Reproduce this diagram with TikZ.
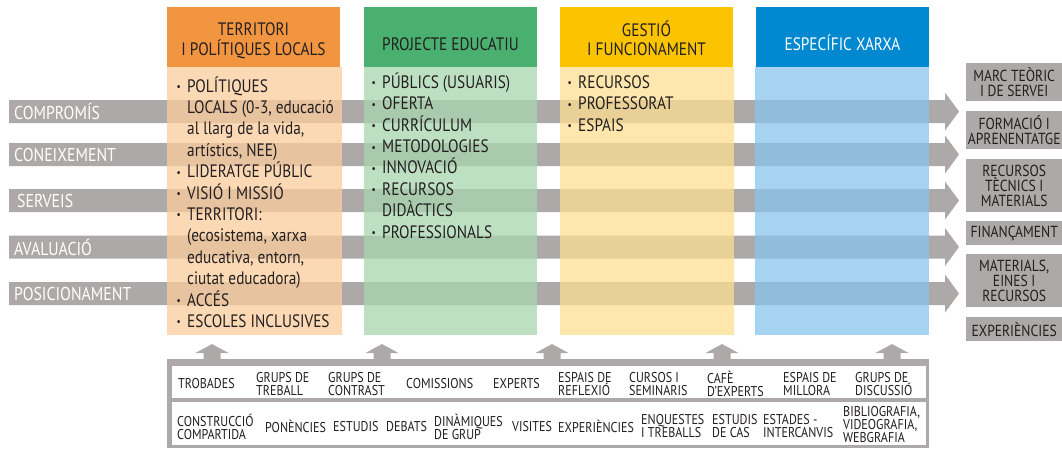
\documentclass[tikz,border=0pt]{standalone}
\usepackage{fontspec}
\setmainfont{PT Sans}[FakeStretch=0.85]
\definecolor{gr}{RGB}{173,169,168}
\definecolor{txt}{RGB}{35,31,32}
\definecolor{orH}{RGB}{242,149,65}
\definecolor{orB}{RGB}{251,204,156}
\definecolor{grH}{RGB}{73,176,112}
\definecolor{grB}{RGB}{168,214,174}
\definecolor{yeH}{RGB}{252,195,0}
\definecolor{yeB}{RGB}{254,222,144}
\definecolor{blH}{RGB}{0,136,209}
\definecolor{blB}{RGB}{136,196,236}
\newcommand\mybul{\makebox[10.5pt][l]{\raisebox{1.5pt}{\fontsize{11}{11}\selectfont\textbullet}}}
\newcommand\myind{\hspace*{10.5pt}}
\begin{document}
\begin{tikzpicture}[x=1pt,y=-1pt,
  hdr/.style={minimum width=173pt, minimum height=60pt, inner sep=0pt, anchor=north west},
  htxt/.style={anchor=base, align=center, font=\fontsize{18}{19.5}\selectfont, inner sep=0pt, text=txt},
  body/.style={fill opacity=0.75},
  blist/.style={anchor=base west, align=left, font=\fontsize{18}{21.4}\selectfont, inner sep=0pt, text=txt},
  side/.style={fill=gr, minimum width=96pt, inner sep=0pt, align=center, text=txt, font=\fontsize{16}{15}\selectfont, anchor=north west},
  cell/.style={anchor=west, align=left, inner sep=0pt, text=txt, font=\fontsize{14.2}{13}\selectfont},
  lab/.style={anchor=west, text=white, inner sep=0pt, font=\fontsize{18.6}{19}\selectfont},
]
\useasboundingbox (0,0) rectangle (1062,450);
% horizontal block arrows
\foreach \c in {111.5,154.5,200.5,247,293.5}{
  \fill[gr] (9,\c-11.5) -- (945,\c-11.5) -- (945,\c-19) -- (959,\c) -- (945,\c+19) -- (945,\c+11.5) -- (9,\c+11.5) -- cycle;
}
\node[lab] (l1) at (14,112) {COMPROMÍS};
\node[lab] (l2) at (14,155) {CONEIXEMENT};
\node[lab] (l3) at (17,201) {SERVEIS};
\node[lab] (l4) at (14,247.5) {AVALUACIÓ};
\node[lab] (l5) at (14,294) {POSICIONAMENT};
% column bodies
\fill[orB,body] (167,67) rectangle (342,335);
\fill[grB,body] (364,67) rectangle (537,335);
\fill[yeB,body] (560,67) rectangle (734,335);
\fill[blB,body] (755,67) rectangle (929,335);
% headers
\node[hdr,fill=orH] (h1) at (167,7) {};
\node[hdr,fill=grH] (h2) at (364,7) {};
\node[hdr,fill=yeH] (h3) at (560,7) {};
\node[hdr,fill=blH] (h4) at (756,7) {};
\node[htxt] (t1) at (253.5,55) {TERRITORI\\I POLÍTIQUES LOCALS};
\node[htxt] (t2) at (450.5,50) {PROJECTE EDUCATIU};
\node[htxt] (t3) at (646.5,55.5) {GESTIÓ\\I FUNCIONAMENT};
\node[htxt,text=white] (t4) at (842.5,50.5) {ESPECÍFIC XARXA};
% lists (base = baseline of last line)
\node[blist] (b1) at (176.5,327.4) {\mybul POLÍTIQUES\\
\myind LOCALS (0-3, educació\\
\myind al llarg de la vida,\\
\myind artístics, NEE)\\
\mybul LIDERATGE PÚBLIC\\
\mybul VISIÓ I MISSIÓ\\
\mybul TERRITORI:\\
\myind (ecosistema, xarxa\\
\myind educativa, entorn,\\
\myind ciutat educadora)\\
\mybul ACCÉS\\
\mybul ESCOLES INCLUSIVES};
\node[blist] (b2) at (371.5,238.1) {\mybul PÚBLICS (USUARIS)\\
\mybul OFERTA\\
\mybul CURRÍCULUM\\
\mybul METODOLOGIES\\
\mybul INNOVACIÓ\\
\mybul RECURSOS\\
\myind DIDÀCTICS\\
\mybul PROFESSIONALS};
\node[blist] (b3) at (567.5,131.1) {\mybul RECURSOS\\
\mybul PROFESSORAT\\
\mybul ESPAIS};
% right boxes
\node[side,minimum height=38pt] (r1) at (966,63) {MARC TEÒRIC\\I DE SERVEI};
\node[side,minimum height=38pt] (r2) at (966,111) {FORMACIÓ I\\APRENENTATGE};
\node[side,minimum height=53pt] (r3) at (966,159) {RECURSOS\\TÈCNICS I\\MATERIALS};
\node[side,minimum height=24pt] (r4) at (966,221) {FINANÇAMENT};
\node[side,minimum height=53pt] (r5) at (966,254) {MATERIALS,\\EINES I\\RECURSOS};
\node[side,minimum height=24pt] (r6) at (966,317) {EXPERIÈNCIES};
% bottom table
\node[fill=gr, minimum width=762pt, minimum height=89pt, inner sep=0pt, anchor=north west] (tbl) at (167,359) {};
\fill[white] (172,366) rectangle (926,398);
\fill[white] (172,402) rectangle (926,445);
\foreach \c in {212,382,552,722,892}{
  \fill[gr] (\c-8.5,359.5) -- (\c-8.5,353) -- (\c-16.5,353) -- (\c,344) -- (\c+16.5,353) -- (\c+8.5,353) -- (\c+8.5,359.5) -- cycle;
}
\node[cell] (c1) at (178,384) {TROBADES};
\node[cell] (c2) at (256,384) {GRUPS DE\\TREBALL};
\node[cell] (c3) at (328,384) {GRUPS DE\\CONTRAST};
\node[cell] (c4) at (406,384) {COMISSIONS};
\node[cell] (c5) at (493,384) {EXPERTS};
\node[cell] (c6) at (558,384) {ESPAIS DE\\REFLEXIÓ};
\node[cell] (c7) at (629,384) {CURSOS I\\SEMINARIS};
\node[cell] (c8) at (707,384) {CAFÈ\\D'EXPERTS};
\node[cell] (c9) at (783,384) {ESPAIS DE\\MILLORA};
\node[cell] (c10) at (855,384) {GRUPS DE\\DISCUSSIÓ};
\node[cell] (d1) at (177,426.5) {CONSTRUCCIÓ\\COMPARTIDA};
\node[cell] (d2) at (265,426.5) {PONÈNCIES};
\node[cell] (d3) at (333,426.5) {ESTUDIS};
\node[cell] (d4) at (386,426.5) {DEBATS};
\node[cell] (d5) at (434,426.5) {DINÀMIQUES\\DE GRUP};
\node[cell] (d6) at (512,426.5) {VISITES};
\node[cell] (d7) at (558,426.5) {EXPERIÈNCIES};
\node[cell] (d8) at (641,426.5) {ENQUESTES\\I TREBALLS};
\node[cell] (d9) at (712,426.5) {ESTUDIS\\DE CAS};
\node[cell] (d10) at (763,426.5) {ESTADES -\\INTERCANVIS};
\node[cell] (d11) at (843,425) {BIBLIOGRAFIA,\\VIDEOGRAFIA,\\WEBGRAFIA};
\end{tikzpicture}
\end{document}
